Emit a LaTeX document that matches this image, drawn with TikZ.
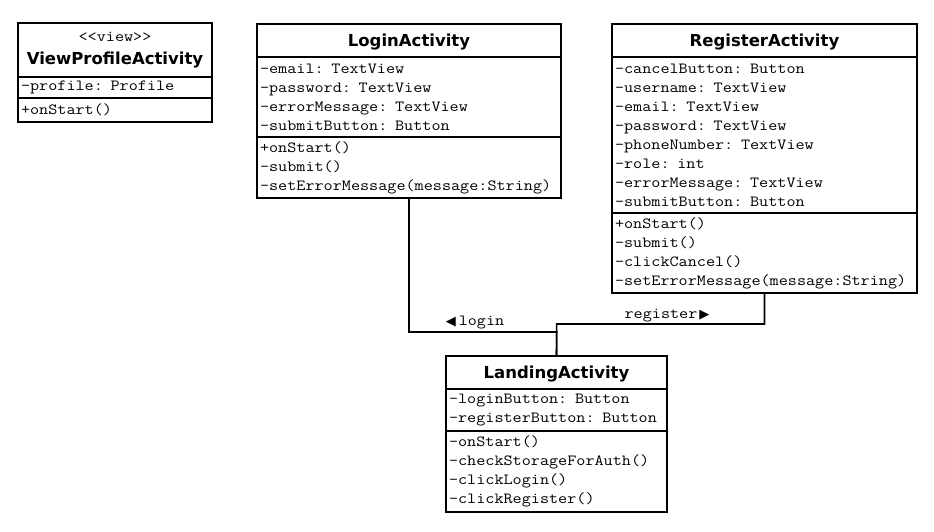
\documentclass[tikz,border=0pt]{standalone}
\usepackage{fontspec}
\setmonofont[FakeStretch=1.14]{Latin Modern Mono}
\newfontfamily\titlefont{DejaVu Sans}
\usetikzlibrary{positioning}

\begin{document}
\begin{tikzpicture}[x=1pt, y=-1pt,
        part/.style={draw, line width=1.6pt, outer sep=0pt, inner xsep=3pt, inner ysep=0pt, align=left, anchor=north west, font=\ttfamily\fontsize{15.5}{19}\selectfont},
        classname/.style={part, align=center, font=\titlefont\bfseries\fontsize{16.5}{23}\selectfont},
        oneline/.style={text height=12pt, text depth=0pt},
        assoc/.style={line width=1.6pt},
        assoclabel/.style={font=\ttfamily\fontsize{15.5}{19}\selectfont, inner sep=1pt}]
        \useasboundingbox (0,0) rectangle (934,531);
        % ViewProfileActivity
        \node[classname, text width=188pt, minimum height=54pt] (viewprofile) at (18,23) {{\ttfamily\fontsize{15.5}{19}\selectfont <{}<view>{}>}\\ViewProfileActivity};
        \node[part, text width=188pt, minimum height=21pt, below=0pt of viewprofile] (viewprofilefields) {-profile: Profile};
        \node[part, text width=188pt, minimum height=24pt, below=0pt of viewprofilefields] (viewprofilemethods) {+onStart()};
        % LoginActivity
        \node[classname, oneline, text width=298pt, minimum height=33pt] (login) at (257,24) {LoginActivity};
        \node[part, text width=298pt, minimum height=80pt, below=0pt of login] (loginfields) {-email: TextView\\-password: TextView\\-errorMessage: TextView\\-submitButton: Button};
        \node[part, text width=298pt, minimum height=61pt, below=0pt of loginfields] (loginmethods) {+onStart()\\-submit()\\-setErrorMessage(message:String)};
        % RegisterActivity
        \node[classname, oneline, text width=299pt, minimum height=33pt] (register) at (612,24) {RegisterActivity};
        \node[part, text width=299pt, minimum height=156pt, below=0pt of register] (registerfields) {-cancelButton: Button\\-username: TextView\\-email: TextView\\-password: TextView\\-phoneNumber: TextView\\-role: int\\-errorMessage: TextView\\-submitButton: Button};
        \node[part, text width=299pt, minimum height=80pt, below=0pt of registerfields] (registermethods) {+onStart()\\-submit()\\-clickCancel()\\-setErrorMessage(message:String)};
        % LandingActivity
        \node[classname, oneline, text width=215pt, minimum height=33pt] (landing) at (446,356) {LandingActivity};
        \node[part, text width=215pt, minimum height=42pt, below=0pt of landing] (landingfields) {-loginButton: Button\\-registerButton: Button};
        \node[part, text width=215pt, minimum height=81pt, below=0pt of landingfields] (landingmethods) {-onStart()\\-checkStorageForAuth()\\-clickLogin()\\-clickRegister()};
        % associations
        \coordinate (loginbend) at (556.7,332);
        \coordinate (registerbend) at (556.7,324);
        \draw[assoc] (loginmethods.south) |- (loginbend) -- (landing.north);
        \draw[assoc] (registermethods.south) |- (registerbend) -- (landing.north);
        \node[assoclabel] (loginlabel) at (475,323) {{\titlefont\fontsize{13}{13}\selectfont ◀}\hspace{3pt}login};
        \node[assoclabel] (registerlabel) at (667,316) {register\hspace{2pt}{\titlefont\fontsize{13}{13}\selectfont ▶}};
    \end{tikzpicture}
\end{document}
